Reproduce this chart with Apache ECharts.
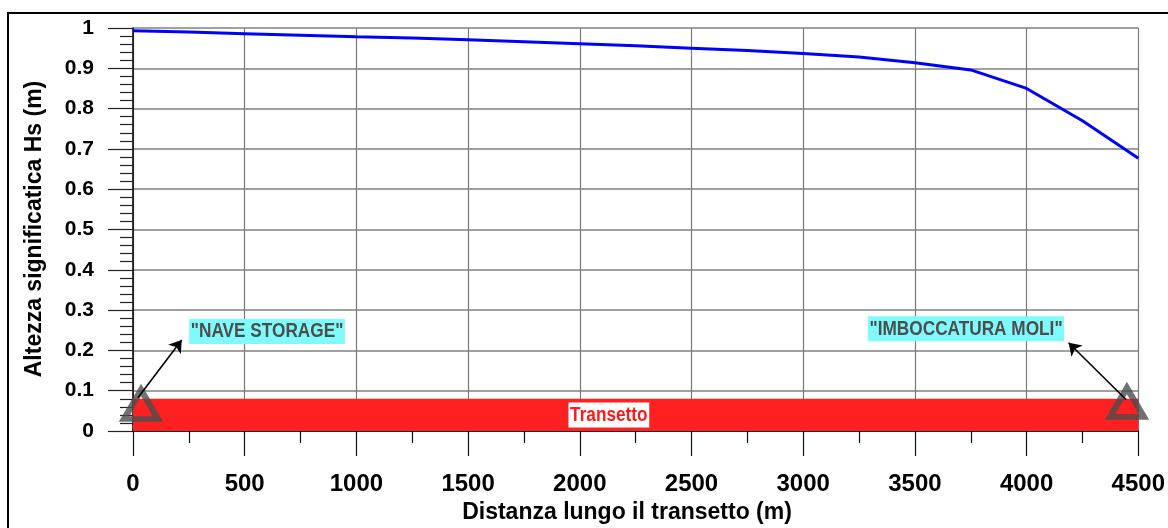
<!DOCTYPE html>
<html>
<head>
<meta charset="utf-8">
<script src="https://cdn.jsdelivr.net/npm/echarts@6/dist/echarts.min.js"></script>
<style>
  html, body { margin: 0; padding: 0; background: #fff; overflow: hidden; }
  #chart { width: 1168px; height: 528px; }
</style>
</head>
<body>
<div id="chart"></div>
<script>
// Distance along the transect (m) and significant wave height Hs (m)
const distance = [0, 250, 500, 750, 1000, 1250, 1500, 1750, 2000, 2250, 2500, 2750, 3000, 3250, 3500, 3750, 4000, 4250, 4500];
const hs = [0.993, 0.990, 0.986, 0.982, 0.978, 0.975, 0.971, 0.966, 0.961, 0.956, 0.950, 0.944, 0.937, 0.928, 0.914, 0.896, 0.850, 0.770, 0.677];

// Transect strip drawn along the bottom of the plot
const transectStart = 0;
const transectEnd = 4500;
const transectHeight = 0.08;
const transectLabel = 'Transetto';
const transectLabelAt = 2130;

// Stations at the two ends of the transect: [distance, height]
const stationNames = ['"NAVE STORAGE"', '"IMBOCCATURA MOLI"'];
const stations = [[36, 0.066], [4449, 0.071]];
// Where each station caption sits, and the arrow linking caption and station
const captionAt = [[600, 0.247], [3729, 0.2535]];
const arrowFrom = [[22, 0.0825], [4446, 0.0776]];
const arrowTo = [[218, 0.226], [4188, 0.219]];

const xTitle = 'Distanza lungo il transetto (m)';
const yTitle = 'Altezza significatica Hs (m)';

const BOLD = 'bold';
const SANS = '"Liberation Sans", Arial, sans-serif';
// condensed bold lettering used for the strip and station captions
const CAPTION_FONT = 'bold 21px ' + SANS;
const CONDENSE = 0.82;

const chart = echarts.init(document.getElementById('chart'), null, { renderer: 'canvas', width: 1168, height: 528 });

const option = {
  animation: false,
  backgroundColor: '#ffffff',
  grid: { left: 133, right: 26, top: 28, bottom: 97, containLabel: false },
  xAxis: {
    type: 'value', min: 0, max: 4500, interval: 500,
    axisLine: { lineStyle: { color: '#000', width: 1.5 } },
    axisTick: { length: 25, lineStyle: { color: '#111', width: 1.2 } },
    minorTick: { show: true, splitNumber: 2, length: 12, lineStyle: { color: '#111', width: 1.2 } },
    splitLine: { show: true, lineStyle: { color: '#7a7a7a', width: 1.2 } },
    axisLabel: { margin: 41, fontSize: 24, fontWeight: BOLD, fontFamily: SANS, color: '#000',
      showMaxLabel: true, showMinLabel: true, formatter: v => String(v) }
  },
  yAxis: {
    type: 'value', min: 0, max: 1, interval: 0.1,
    axisLine: { lineStyle: { color: '#000', width: 1.5 } },
    axisTick: { length: 25, lineStyle: { color: '#222', width: 1.2 } },
    minorTick: { show: true, splitNumber: 5, length: 13, lineStyle: { color: '#222', width: 1.2 } },
    splitLine: { show: true, lineStyle: { color: '#a0a0a0', width: 1.8 } },
    axisLabel: { margin: 39, fontSize: 21, fontWeight: BOLD, fontFamily: SANS, color: '#000' }
  },
  series: [
    {
      name: 'transect', type: 'custom', z: 2,
      data: [[transectStart, transectEnd, transectHeight]],
      renderItem: function (params, api) {
        const p0 = api.coord([api.value(0), api.value(2)]);
        const p1 = api.coord([api.value(1), 0]);
        const pl = api.coord([transectLabelAt, api.value(2) / 2]);
        return {
          type: 'group',
          children: [
            { type: 'rect', shape: { x: p0[0], y: p0[1], width: p1[0] - p0[0], height: p1[1] - p0[1] },
              style: { fill: '#ff2121' } },
            { type: 'text', x: pl[0], y: pl[1], scaleX: CONDENSE,
              style: { text: transectLabel, fill: '#ff1a1a', backgroundColor: '#ffffff',
                padding: [2, 2], font: CAPTION_FONT, align: 'center', verticalAlign: 'middle' } }
          ]
        };
      }
    },
    {
      name: 'Hs', type: 'line', z: 3,
      data: distance.map((d, i) => [d, hs[i]]),
      symbol: 'none', smooth: false,
      lineStyle: { color: '#0000ff', width: 3 }
    },
    {
      name: 'stations', type: 'scatter', z: 5, clip: false,
      data: stations,
      symbol: 'triangle', symbolSize: [34, 29],
      itemStyle: { color: 'rgba(0,0,0,0)', borderColor: '#4d4d4d', borderWidth: 6 }
    },
    {
      name: 'arrows', type: 'lines', coordinateSystem: 'cartesian2d', z: 6,
      data: arrowFrom.map((a, i) => ({ coords: [a, arrowTo[i]] })),
      symbol: ['none', 'arrow'], symbolSize: 12,
      lineStyle: { color: '#000', width: 1.6, opacity: 1 }
    },
    {
      name: 'captions', type: 'custom', z: 7, clip: false,
      data: captionAt,
      renderItem: function (params, api) {
        const p = api.coord([api.value(0), api.value(1)]);
        return {
          type: 'text', x: p[0], y: p[1], scaleX: CONDENSE,
          style: { text: stationNames[params.dataIndex], fill: '#4d4d4d', backgroundColor: '#80fbfb',
            padding: [2, 2], font: CAPTION_FONT, align: 'center', verticalAlign: 'middle' }
        };
      }
    }
  ],
  graphic: [
    { type: 'rect', shape: { x: 8, y: 13, width: 1300, height: 700 },
      style: { fill: 'none', stroke: '#000', lineWidth: 2 }, silent: true },
    { type: 'text', x: 627, y: 513,
      style: { text: xTitle, font: 'bold 23px ' + SANS, fill: '#000', align: 'center', verticalAlign: 'middle' } },
    { type: 'text', x: 35, y: 229, rotation: Math.PI / 2,
      style: { text: yTitle, font: 'bold 23px ' + SANS, fill: '#000', align: 'center', verticalAlign: 'middle' } }
  ]
};

chart.setOption(option);
</script>
</body>
</html>
